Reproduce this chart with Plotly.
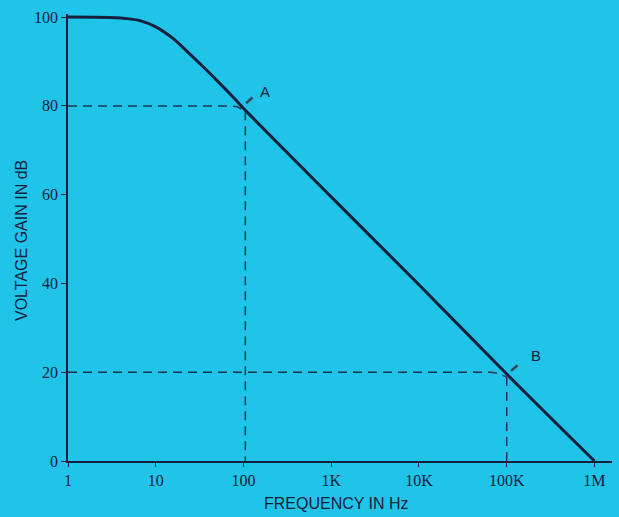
import numpy as np
import plotly.graph_objects as go

# open-loop gain curve
freq_hz = [1, 3, 5, 6.6, 10, 15.7, 22.7, 32, 50, 76, 110, 1000, 10000, 100000, 1000000]
gain_db = [100, 99.9, 99.6, 99.2, 97.8, 95.2, 92.3, 89.5, 85.7, 82.0, 78.6, 59.5, 39.7, 19.6, 0]

# dashed guide to point A
a_h_freq = [1, 70, 85, 95, 105]
a_h_gain = [80, 80, 79.8, 79.3, 78.8]
a_v_freq = [105, 105]
a_v_gain = [78.8, 0]

# dashed guide to point B
b_h_freq = [1, 65000, 80000, 90000, 100000]
b_h_gain = [20, 20, 19.8, 19.4, 18.9]
b_v_freq = [100000, 100000]
b_v_gain = [18.9, 0]

x_tickvals = [1, 10, 100, 1000, 10000, 100000, 1000000]
x_ticktext = ["1", "10", "100", "1K", "10K", "100K", "1M"]
y_tickvals = [0, 20, 40, 60, 80, 100]

BG = "#20C4E8"
INK = "#15203C"
SANS = "Liberation Sans"
SERIF = "Liberation Serif"

fig = go.Figure()

dash = dict(color="#1E3352", width=1.5, dash="9px,6px")
for xs, ys in [(a_h_freq, a_h_gain), (a_v_freq, a_v_gain),
               (b_h_freq, b_h_gain), (b_v_freq, b_v_gain)]:
    fig.add_trace(go.Scatter(x=xs, y=ys, mode="lines", line=dash, hoverinfo="skip"))

fig.add_trace(go.Scatter(x=freq_hz, y=gain_db, mode="lines",
                         line=dict(color=INK, width=3, shape="spline", smoothing=0.8)))

# labels A and B with short pointer lines
for label, tx, ty, px, py in [("A", 176, 83.3, 107, 80.6), ("B", 214000, 23.7, 112000, 20.3)]:
    fig.add_annotation(x=np.log10(tx), y=ty, text=label, showarrow=False,
                       font=dict(family=SANS, size=15, color=INK))
    fig.add_annotation(x=np.log10(px), y=py, text="", showarrow=True, ax=8, ay=-7,
                       arrowhead=0, arrowwidth=2.5, arrowcolor="#33475E")

# axis titles, placed in paper pixels
fig.add_annotation(text="FREQUENCY IN Hz", xref="paper", yref="paper",
                   x=(336 - 68) / 544, y=-42 / 447, showarrow=False,
                   xanchor="center", yanchor="middle",
                   font=dict(family=SANS, size=16, color=INK))
fig.add_annotation(text="VOLTAGE GAIN IN dB", xref="paper", yref="paper",
                   x=(21 - 68) / 544, y=(461 - 241) / 447, showarrow=False, textangle=-90,
                   xanchor="center", yanchor="middle",
                   font=dict(family=SANS, size=16, color=INK))

fig.update_layout(
    width=619, height=517,
    margin=dict(l=68, r=7, t=14, b=56),
    paper_bgcolor=BG, plot_bgcolor=BG,
    showlegend=False,
    xaxis=dict(
        type="log", range=[0, 6.2],
        tickvals=x_tickvals, ticktext=x_ticktext,
        showgrid=False, zeroline=False,
        showline=True, linecolor=INK, linewidth=1.5,
        ticks="outside", ticklen=4, tickcolor=INK,
        tickfont=dict(family=SERIF, size=16, color=INK),
    ),
    yaxis=dict(
        range=[0, 100.7],
        tickvals=y_tickvals,
        showgrid=False, zeroline=False,
        showline=True, linecolor=INK, linewidth=1.5,
        ticks="outside", ticklen=5, tickcolor=INK,
        tickfont=dict(family=SERIF, size=16, color=INK),
    ),
)

fig.write_html("out.html", config={"displayModeBar": False},
               post_script="document.body.style.margin='0';")
